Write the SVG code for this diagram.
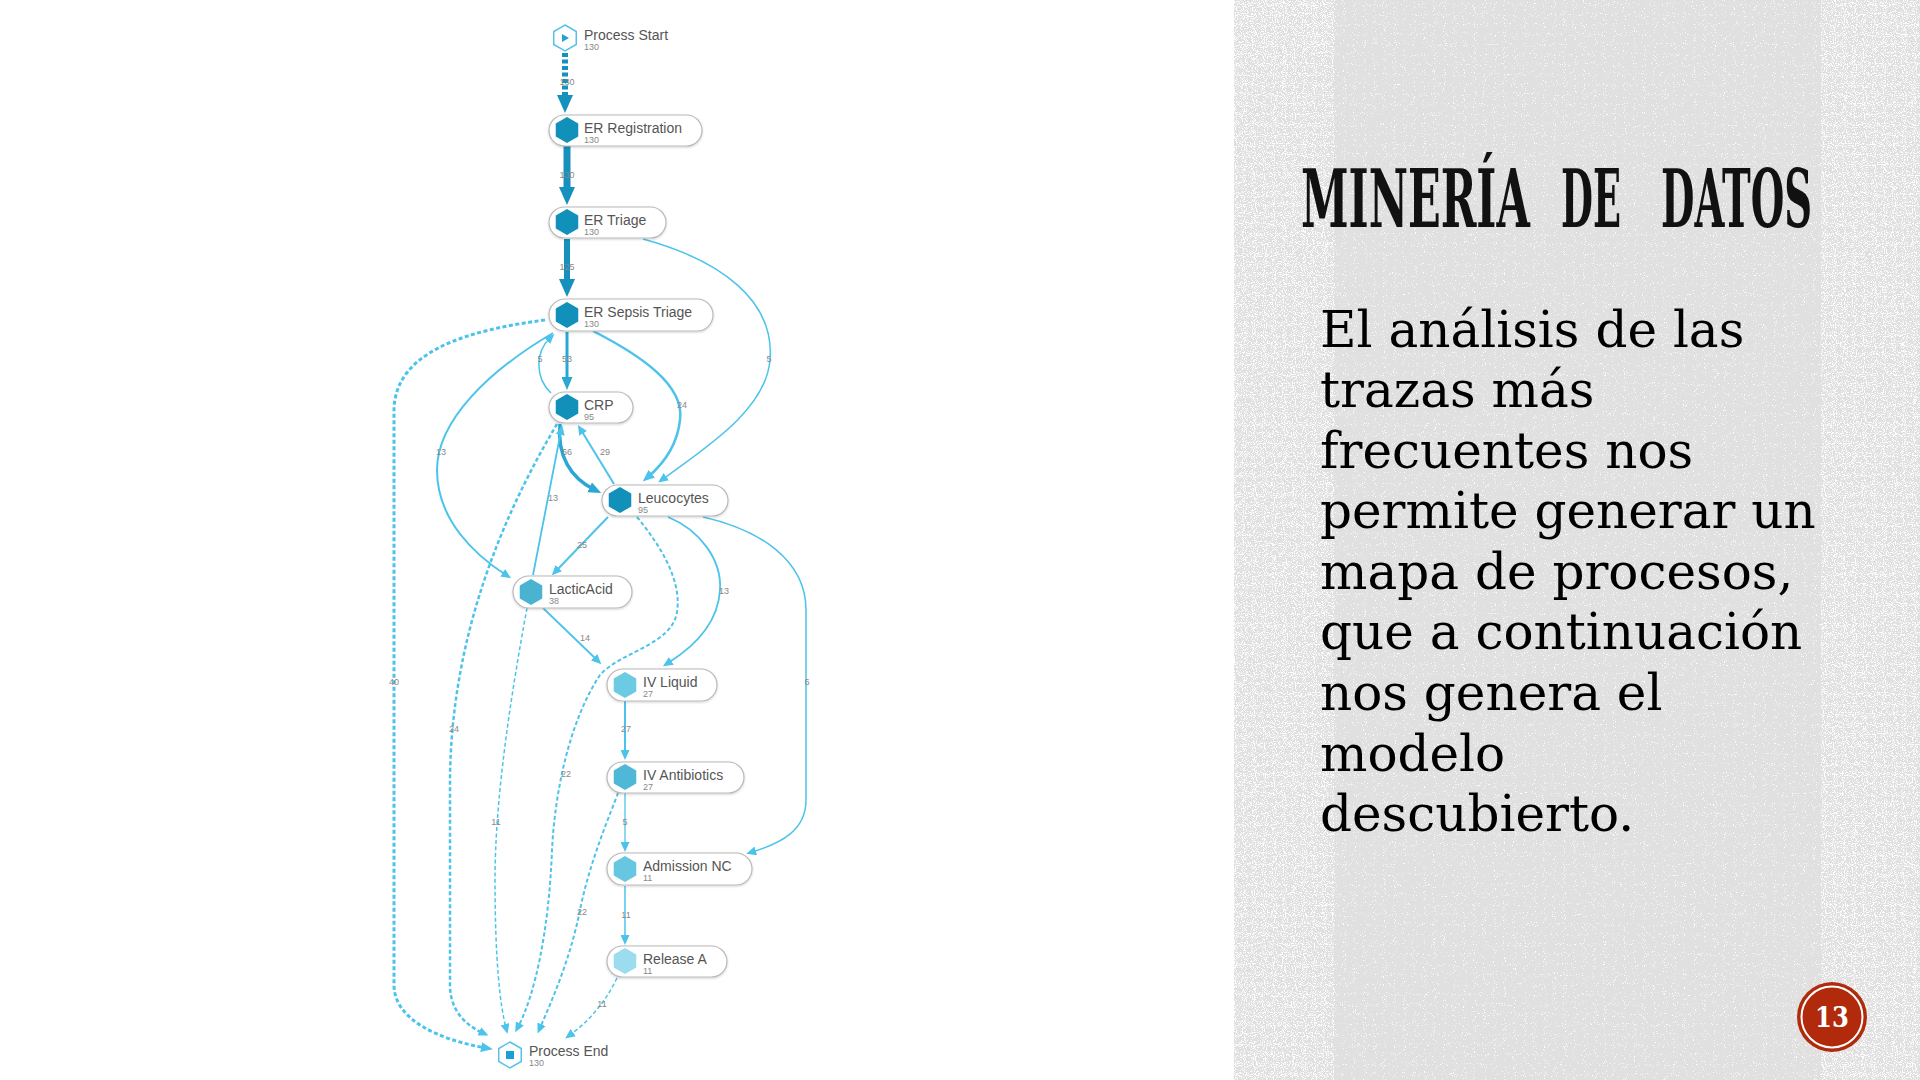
<svg xmlns="http://www.w3.org/2000/svg" width="1920" height="1080" viewBox="0 0 1920 1080">
<style>
.pill{fill:#fff;stroke:#b9b9b9;stroke-width:1.2}
.nm{font-family:"Liberation Sans",Arial,sans-serif;font-size:14px;fill:#555}
.ct{font-family:"Liberation Sans",Arial,sans-serif;font-size:9px;fill:#888}
.el{font-family:"Liberation Sans",Arial,sans-serif;font-size:9px;fill:#888;text-anchor:middle}
.e{fill:none}
.dk{stroke:#1690bd}
.md{stroke:#2aa7d5}
.lt{stroke:#4cc3ea}
.ds{stroke-dasharray:4 2.5}
.body{font-family:"DejaVu Serif","Liberation Serif",serif;font-size:50px;fill:#000}
.ttl{font-family:"DejaVu Serif Condensed","DejaVu Serif",serif;font-stretch:condensed;font-weight:bold;font-size:80px;fill:#111}
</style>
<defs>
<polygon id="hex" points="0,-13 11.26,-6.5 11.26,6.5 0,13 -11.26,6.5 -11.26,-6.5"/>
<filter id="sh" x="-10%" y="-20%" width="120%" height="150%">
<feDropShadow dx="0" dy="1" stdDeviation="1.2" flood-color="#000" flood-opacity="0.18"/>
</filter>
<filter id="spk" x="0" y="0" width="1" height="1">
<feTurbulence type="fractalNoise" baseFrequency="0.9" numOctaves="1" seed="7"/>
<feColorMatrix type="matrix" values="0 0 0 0 1 0 0 0 0 1 0 0 0 0 1 12 0 0 0 -7.6"/>
</filter>
<filter id="spk2" x="0" y="0" width="1" height="1">
<feTurbulence type="fractalNoise" baseFrequency="0.9" numOctaves="1" seed="11"/>
<feColorMatrix type="matrix" values="0 0 0 0 1 0 0 0 0 1 0 0 0 0 1 12 0 0 0 -6.4"/>
</filter>
<marker id="aBig" markerUnits="userSpaceOnUse" markerWidth="18" markerHeight="16" refX="8" refY="8" orient="auto"><path d="M0,0 L18,8 L0,16 z" fill="#1690bd"/></marker>
<marker id="aMed" markerUnits="userSpaceOnUse" markerWidth="13" markerHeight="11" refX="6" refY="5.5" orient="auto"><path d="M0,0 L13,5.5 L0,11 z" fill="#2aa7d5"/></marker>
<marker id="aMedL" markerUnits="userSpaceOnUse" markerWidth="12" markerHeight="10" refX="5" refY="5" orient="auto"><path d="M0,0 L12,5 L0,10 z" fill="#4cc3ea"/></marker>
<marker id="aSm" markerUnits="userSpaceOnUse" markerWidth="10" markerHeight="9" refX="4" refY="4.5" orient="auto"><path d="M0,0 L10,4.5 L0,9 z" fill="#4cc3ea"/></marker>
</defs>

<rect x="0" y="0" width="1920" height="1080" fill="#fff"/>

<!-- right textured panel -->
<g id="panel">
<rect x="1234" y="0" width="686" height="1080" fill="#e0e0e0"/>
<rect x="1234" y="0" width="686" height="1080" filter="url(#spk)"/>
<rect x="1234" y="0" width="100" height="1080" filter="url(#spk2)"/>
<rect x="1821" y="0" width="99" height="1080" filter="url(#spk2)"/>
<rect x="1234" y="0" width="100" height="55" filter="url(#spk2)"/>
</g>

<g id="connectors">
<path class="e dk ds" d="M565,53 L565,103" stroke-width="6" stroke-dasharray="6 3" marker-end="url(#aBig)"/>
<path class="e dk" d="M567,146 L567,195" stroke-width="7" marker-end="url(#aBig)"/>
<path class="e dk" d="M567,239 L567,287" stroke-width="6" marker-end="url(#aBig)"/>
<path class="e md" d="M567,332 L567,383" stroke-width="3" marker-end="url(#aMed)"/>
<path class="e lt" d="M551,393 C535,378 535,352 550,338" stroke-width="1.5" marker-end="url(#aSm)"/>
<path class="e lt" d="M593,331 C640,355 685,385 680,420 C677,448 662,465 648,477" stroke-width="2.5" marker-end="url(#aMedL)"/>
<path class="e lt" d="M643,239 C720,260 775,300 770,360 C766,410 705,448 663,479" stroke-width="1.5" marker-end="url(#aSm)"/>
<path class="e lt" d="M553,333 C490,370 437,420 437,470 C437,520 475,555 506,575" stroke-width="2" marker-end="url(#aSm)"/>
<path class="e lt ds" d="M545,320 C470,330 395,350 394,410 L394,985 C394,1020 440,1040 486,1048" stroke-width="3" marker-end="url(#aMedL)"/>
<path class="e md" d="M560,424 C557,455 570,478 595,490" stroke-width="3.5" marker-end="url(#aMed)"/>
<path class="e lt" d="M614,484 L581,430" stroke-width="2" marker-end="url(#aSm)"/>
<path class="e lt" d="M533,575 L561,431" stroke-width="1.8" marker-end="url(#aSm)"/>
<path class="e lt ds" d="M557,424 C500,520 451,640 450,780 L450,985 C450,1010 465,1025 483,1033" stroke-width="2.5" marker-end="url(#aSm)"/>
<path class="e lt" d="M608,517 L556,571" stroke-width="2" marker-end="url(#aSm)"/>
<path class="e lt" d="M668,517 C700,530 722,560 720,590 C718,625 692,648 668,663" stroke-width="1.8" marker-end="url(#aSm)"/>
<path class="e lt" d="M703,517 C760,530 806,560 806,610 L806,800 C806,830 782,843 752,852" stroke-width="1.5" marker-end="url(#aSm)"/>
<path class="e lt ds" d="M637,517 C660,545 682,580 677,612 C672,645 620,652 600,675 C570,720 555,790 552,850 C549,930 535,995 518,1027" stroke-width="2" marker-end="url(#aSm)"/>
<path class="e lt" d="M543,608 L597,660" stroke-width="1.8" marker-end="url(#aSm)"/>
<path class="e lt" d="M625,701 L625,754" stroke-width="2" marker-end="url(#aSm)"/>
<path class="e lt" d="M625,793 L625,846" stroke-width="1.3" marker-end="url(#aSm)"/>
<path class="e lt ds" d="M618,793 C612,810 590,860 580,910 C570,960 552,1000 540,1028" stroke-width="2" marker-end="url(#aSm)"/>
<path class="e lt" d="M625,886 L625,939" stroke-width="1.5" marker-end="url(#aSm)"/>
<path class="e lt ds" d="M617,978 C605,1003 588,1022 570,1035" stroke-width="1.5" marker-end="url(#aSm)"/>
<path class="e lt ds" d="M527,608 C510,700 495,800 495,880 C495,960 500,1005 506,1028" stroke-width="1.5" marker-end="url(#aSm)"/>
<g id="edge-labels">
<text class="el" x="567" y="85">130</text>
<text class="el" x="567" y="178">130</text>
<text class="el" x="567" y="270">125</text>
<text class="el" x="567" y="362">53</text>
<text class="el" x="540" y="362">5</text>
<text class="el" x="682" y="408">24</text>
<text class="el" x="769" y="362">5</text>
<text class="el" x="441" y="455">13</text>
<text class="el" x="394" y="685">40</text>
<text class="el" x="567" y="455">66</text>
<text class="el" x="605" y="455">29</text>
<text class="el" x="553" y="501">13</text>
<text class="el" x="454" y="732">24</text>
<text class="el" x="582" y="548">25</text>
<text class="el" x="724" y="594">13</text>
<text class="el" x="807" y="685">6</text>
<text class="el" x="566" y="777">22</text>
<text class="el" x="585" y="641">14</text>
<text class="el" x="626" y="732">27</text>
<text class="el" x="625" y="825">5</text>
<text class="el" x="582" y="915">22</text>
<text class="el" x="626" y="918">11</text>
<text class="el" x="602" y="1007">11</text>
<text class="el" x="496" y="825">11</text>
</g>
</g>

<g id="n-start">
<use href="#hex" x="565" y="38" fill="#fff" stroke="#55c3e8" stroke-width="1.5"/>
<polygon points="562,34 569,38 562,42" fill="#22a0d4"/>
<text class="nm" x="584" y="40">Process Start</text>
<text class="ct" x="584" y="50">130</text>
</g>
<g id="n-reg">
<rect class="pill" x="549" y="115" width="153" height="31" rx="15.5" filter="url(#sh)"/>
<use href="#hex" x="567" y="130" fill="#1190b9"/>
<text class="nm" x="584" y="133">ER Registration</text>
<text class="ct" x="584" y="143">130</text>
</g>
<g id="n-triage">
<rect class="pill" x="549" y="207" width="117" height="31" rx="15.5" filter="url(#sh)"/>
<use href="#hex" x="567" y="222" fill="#1190b9"/>
<text class="nm" x="584" y="225">ER Triage</text>
<text class="ct" x="584" y="235">130</text>
</g>
<g id="n-sepsis">
<rect class="pill" x="549" y="299" width="164" height="32" rx="16" filter="url(#sh)"/>
<use href="#hex" x="567" y="315" fill="#1190b9"/>
<text class="nm" x="584" y="317">ER Sepsis Triage</text>
<text class="ct" x="584" y="327">130</text>
</g>
<g id="n-crp">
<rect class="pill" x="549" y="392" width="84" height="31" rx="15.5" filter="url(#sh)"/>
<use href="#hex" x="567" y="407" fill="#1190b9"/>
<text class="nm" x="584" y="410">CRP</text>
<text class="ct" x="584" y="420">95</text>
</g>
<g id="n-leuco">
<rect class="pill" x="602" y="485" width="126" height="31" rx="15.5" filter="url(#sh)"/>
<use href="#hex" x="620" y="500" fill="#1190b9"/>
<text class="nm" x="638" y="503">Leucocytes</text>
<text class="ct" x="638" y="513">95</text>
</g>
<g id="n-lactic">
<rect class="pill" x="513" y="576" width="119" height="32" rx="16" filter="url(#sh)"/>
<use href="#hex" x="531" y="592" fill="#4ab4d0"/>
<text class="nm" x="549" y="594">LacticAcid</text>
<text class="ct" x="549" y="604">38</text>
</g>
<g id="n-ivliquid">
<rect class="pill" x="607" y="669" width="110" height="32" rx="16" filter="url(#sh)"/>
<use href="#hex" x="625" y="685" fill="#6ccae3"/>
<text class="nm" x="643" y="687">IV Liquid</text>
<text class="ct" x="643" y="697">27</text>
</g>
<g id="n-ivanti">
<rect class="pill" x="607" y="762" width="137" height="31" rx="15.5" filter="url(#sh)"/>
<use href="#hex" x="625" y="777" fill="#4fb8d6"/>
<text class="nm" x="643" y="780">IV Antibiotics</text>
<text class="ct" x="643" y="790">27</text>
</g>
<g id="n-admission">
<rect class="pill" x="607" y="853" width="145" height="32" rx="16" filter="url(#sh)"/>
<use href="#hex" x="625" y="869" fill="#68c7e0"/>
<text class="nm" x="643" y="871">Admission NC</text>
<text class="ct" x="643" y="881">11</text>
</g>
<g id="n-release">
<rect class="pill" x="607" y="946" width="120" height="31" rx="15.5" filter="url(#sh)"/>
<use href="#hex" x="625" y="961" fill="#9bdcef"/>
<text class="nm" x="643" y="964">Release A</text>
<text class="ct" x="643" y="974">11</text>
</g>
<g id="n-end">
<use href="#hex" x="510" y="1055" fill="#fff" stroke="#55c3e8" stroke-width="1.5"/>
<rect x="506" y="1051" width="8" height="8" fill="#1aa0d4"/>
<text class="nm" x="529" y="1056">Process End</text>
<text class="ct" x="529" y="1066">130</text>
</g>

<g id="title">
<text class="ttl" transform="translate(1301,227) scale(0.62,1)" x="0" y="0" textLength="369" lengthAdjust="spacingAndGlyphs">MINERÍA</text>
<text class="ttl" transform="translate(1561,227) scale(0.55,1)" x="0" y="0" textLength="109" lengthAdjust="spacingAndGlyphs">DE</text>
<text class="ttl" transform="translate(1661,227) scale(0.53,1)" x="0" y="0" textLength="285" lengthAdjust="spacingAndGlyphs">DATOS</text>
</g>
<g id="body-text">
<text class="body" x="1320" y="347">El análisis de las</text>
<text class="body" x="1320" y="407">trazas más</text>
<text class="body" x="1320" y="468">frecuentes nos</text>
<text class="body" x="1320" y="528">permite generar un</text>
<text class="body" x="1320" y="589">mapa de procesos,</text>
<text class="body" x="1320" y="649">que a continuación</text>
<text class="body" x="1320" y="710">nos genera el</text>
<text class="body" x="1320" y="771">modelo</text>
<text class="body" x="1320" y="831">descubierto.</text>
</g>
<g id="page-number">
<circle cx="1832" cy="1017" r="35" fill="#b02a0b"/>
<circle cx="1832" cy="1017" r="30.5" fill="none" stroke="#fff" stroke-width="2"/>
<text x="1832" y="1027" text-anchor="middle" font-family="'DejaVu Serif Condensed','DejaVu Serif',serif" font-stretch="condensed" font-weight="bold" font-size="27" fill="#fff">13</text>
</g>
</svg>
